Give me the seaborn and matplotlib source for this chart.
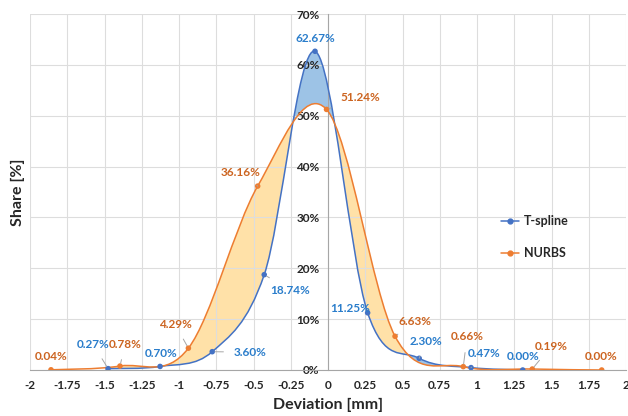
import numpy as np
import matplotlib
matplotlib.use("Agg")
import matplotlib.pyplot as plt
import seaborn as sns
import pandas as pd
from matplotlib.path import Path
from matplotlib.patches import PathPatch
from matplotlib.lines import Line2D

# ---- data ----
tspline_x = [-1.476, -1.127, -0.777, -0.428, -0.087, 0.266, 0.612, 0.960, 1.307]
tspline_y = [0.27, 0.70, 3.60, 18.74, 62.67, 11.25, 2.30, 0.47, 0.00]
nurbs_x = [-1.859, -1.396, -0.937, -0.472, -0.010, 0.450, 0.908, 1.371, 1.837]
nurbs_y = [0.04, 0.78, 4.29, 36.16, 51.24, 6.63, 0.66, 0.19, 0.00]
x_ticks = [-2, -1.75, -1.5, -1.25, -1, -0.75, -0.5, -0.25, 0, 0.25, 0.5, 0.75, 1, 1.25, 1.5, 1.75, 2]
y_ticks = [0, 10, 20, 30, 40, 50, 60, 70]

# label placement (data coords) and whether a leader line is drawn
t_lab_pos = [(-1.577, 5.1), (-1.12, 3.3), (-0.523, 3.5), (-0.255, 15.7), (-0.087, 65.2),
             (0.148, 12.0), (0.66, 5.7), (1.047, 3.3), (1.309, 2.6)]
t_leader = [True, False, True, True, False, False, True, True, False]
n_lab_pos = [(-1.859, 2.6), (-1.362, 5.1), (-1.027, 9.0), (-0.584, 38.9), (0.22, 53.5),
             (0.584, 9.6), (0.933, 6.5), (1.497, 4.7), (1.832, 2.6)]
n_leader = [False, True, True, True, True, True, True, True, False]

BLUE = "#4472C4"
ORANGE = "#ED7D31"
BLUE_TXT = "#2A7DCB"
ORANGE_TXT = "#CC6420"
FILL_Y = "#FFE1A8"
FILL_B = "#9DC3E6"

sns.set_style("white")
plt.rcParams["font.family"] = ["Lato", "DejaVu Sans"]


def bezier_segments(xs, ys):
    """Excel-style smoothed line: cubic Bezier segments through the points."""
    P = np.column_stack([xs, ys]).astype(float)
    n = len(P)
    segs = []
    for i in range(n - 1):
        p0 = P[i - 1] if i > 0 else P[i]
        p1, p2 = P[i], P[i + 1]
        p3 = P[i + 2] if i + 2 < n else P[i + 1]
        c1 = p1 + (p2 - p0) / 6.0
        c2 = p2 - (p3 - p1) / 6.0
        segs.append((p1, c1, c2, p2))
    return segs


def bezier_path(xs, ys):
    segs = bezier_segments(xs, ys)
    verts = [segs[0][0]]
    codes = [Path.MOVETO]
    for p1, c1, c2, p2 in segs:
        verts += [c1, c2, p2]
        codes += [Path.CURVE4] * 3
    return Path(np.array(verts), codes)


def bezier_sample(xs, ys, k=80):
    segs = bezier_segments(xs, ys)
    t = np.linspace(0, 1, k)[:, None]
    out = []
    for p1, c1, c2, p2 in segs:
        pts = ((1 - t) ** 3) * p1 + 3 * ((1 - t) ** 2) * t * c1 + 3 * (1 - t) * t ** 2 * c2 + t ** 3 * p2
        out.append(pts)
    pts = np.vstack(out)
    return pts[:, 0], pts[:, 1]


fig = plt.figure(figsize=(6.28, 4.16), dpi=100)
ax = fig.add_axes([30 / 628, 46 / 416, 596 / 628, 356 / 416])

# fills between the two smoothed curves
tx, ty = bezier_sample(tspline_x, tspline_y)
nx, ny = bezier_sample(nurbs_x, nurbs_y)
grid = np.linspace(max(tx.min(), nx.min()), min(tx.max(), nx.max()), 1500)
t_on = np.interp(grid, tx, ty)
n_on = np.interp(grid, nx, ny)
ax.fill_between(grid, t_on, n_on, where=n_on >= t_on, interpolate=True,
                color=FILL_Y, lw=0, zorder=1)
ax.fill_between(grid, t_on, n_on, where=t_on > n_on, interpolate=True,
                color=FILL_B, lw=0, zorder=1)

# smoothed lines
ax.add_patch(PathPatch(bezier_path(tspline_x, tspline_y), fc="none", ec=BLUE, lw=1.1, zorder=3))
ax.add_patch(PathPatch(bezier_path(nurbs_x, nurbs_y), fc="none", ec=ORANGE, lw=1.1, zorder=3))

# markers
df = pd.DataFrame({
    "x": tspline_x + nurbs_x,
    "y": tspline_y + nurbs_y,
    "series": ["T-spline"] * len(tspline_x) + ["NURBS"] * len(nurbs_x),
})
sns.scatterplot(data=df, x="x", y="y", hue="series", palette={"T-spline": BLUE, "NURBS": ORANGE},
                s=16, linewidth=0, ax=ax, zorder=4, legend=False)
ax.set_xlabel("")
ax.set_ylabel("")

# data labels
lab_font = dict(fontsize=8.5, fontweight="bold", ha="center", va="center", zorder=5)
leader = dict(arrowstyle="-", color="#A6A6A6", lw=0.7, shrinkA=5, shrinkB=2)
for xs, ys, pos, lead, col in [(tspline_x, tspline_y, t_lab_pos, t_leader, BLUE_TXT),
                                (nurbs_x, nurbs_y, n_lab_pos, n_leader, ORANGE_TXT)]:
    for x, y, (lx, ly), ld in zip(xs, ys, pos, lead):
        ax.annotate(f"{y:.2f}%", xy=(x, y), xytext=(lx, ly), color=col,
                    arrowprops=leader if ld else None, **lab_font)

# axes styling
ax.set_xlim(-2, 2)
ax.set_ylim(0, 70)
ax.set_xticks(x_ticks)
ax.set_xticklabels([f"{v:g}" for v in x_ticks])
ax.set_yticks(y_ticks)
ax.set_yticklabels([f"{v}%" for v in y_ticks])
ax.grid(True, color="#DDDDDD", lw=0.8)
ax.set_axisbelow("line")
for s in ["top", "right"]:
    ax.spines[s].set_visible(False)
ax.spines["left"].set_position(("data", 0))
ax.spines["left"].set_color("#A6A6A6")
ax.spines["bottom"].set_color("#A6A6A6")
ax.tick_params(axis="y", length=4, color="#A6A6A6", pad=2, labelsize=8.5)
ax.tick_params(axis="x", length=0, pad=7, labelsize=8.5)
for lbl in ax.get_xticklabels() + ax.get_yticklabels():
    lbl.set_fontweight("bold")

fig.text(18 / 628, 1 - 192 / 416, "Share [%]", rotation=90, ha="center", va="center",
         fontsize=11.5, fontweight="bold")
fig.text(328 / 628, 1 - 405 / 416, "Deviation [mm]", ha="center", va="center",
         fontsize=11.5, fontweight="bold")

handles = [Line2D([0], [0], color=BLUE, lw=1.1, marker="o", ms=3.5),
           Line2D([0], [0], color=ORANGE, lw=1.1, marker="o", ms=3.5)]
leg = ax.legend(handles, ["T-spline", "NURBS"], loc="center left",
                bbox_to_anchor=(490 / 628, 1 - 237 / 416), bbox_transform=fig.transFigure,
                frameon=False, handlelength=1.45, handletextpad=0.35, labelspacing=1.6,
                prop=dict(weight="bold", size=9))

fig.savefig("out.png", dpi=100)
